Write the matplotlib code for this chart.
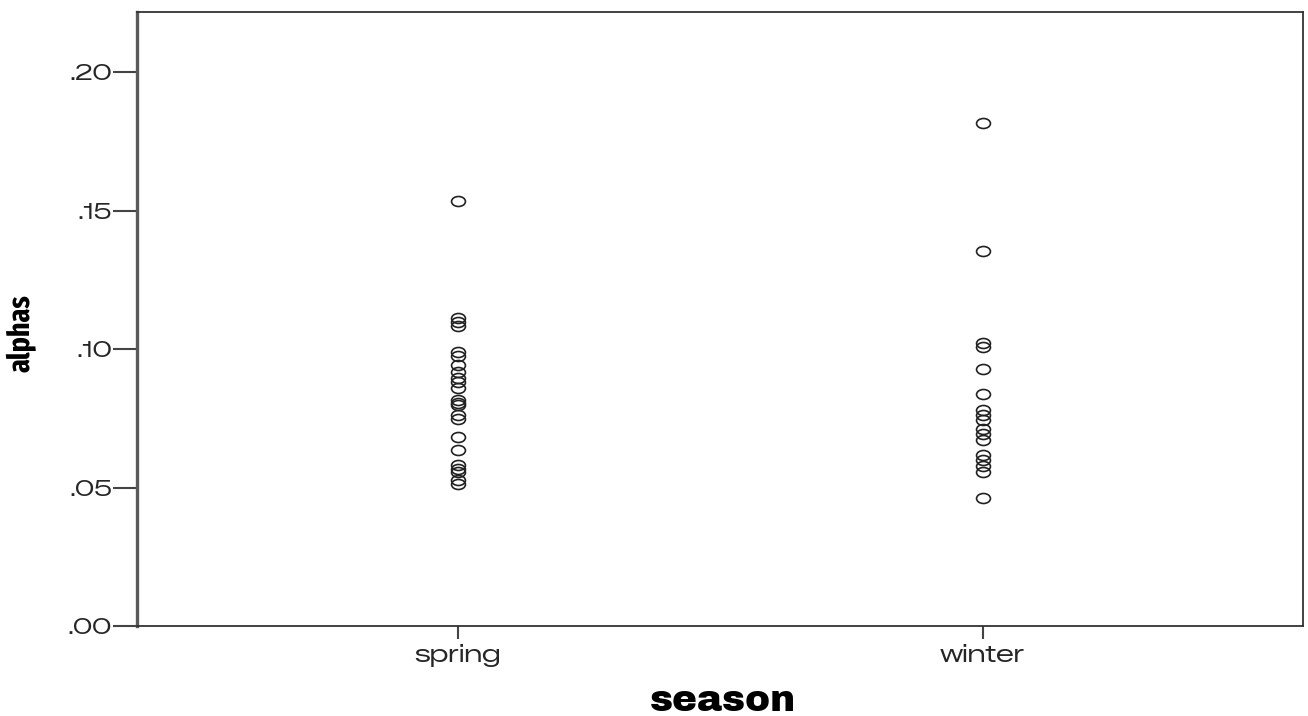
import matplotlib
matplotlib.use('Agg')
import matplotlib.pyplot as plt
from matplotlib.path import Path
from matplotlib.transforms import Affine2D
from matplotlib.ticker import FuncFormatter

# values
seasons = ['spring', 'winter']
spring_alphas = [0.1534, 0.1112, 0.1097, 0.1083, 0.0989, 0.0975, 0.0942, 0.0917,
                 0.0895, 0.0881, 0.0859, 0.0816, 0.0805, 0.0798, 0.0762, 0.0747,
                 0.0682, 0.0635, 0.0581, 0.0567, 0.0556, 0.0527, 0.0513]
winter_alphas = [0.1816, 0.1354, 0.1022, 0.1007, 0.0928, 0.0838, 0.0780, 0.0762,
                 0.0744, 0.0711, 0.0693, 0.0671, 0.0617, 0.0599, 0.0578, 0.0556,
                 0.0462]
y_ticks = [0.00, 0.05, 0.10, 0.15, 0.20]

tick_font = ['Zalando Sans Expanded', 'DejaVu Sans']

# slightly flattened circle, like the stretched original
ellipse = Path.unit_circle().transformed(Affine2D().scale(1.0, 0.72))

fig = plt.figure(figsize=(13.08, 7.16), dpi=100)
ax = fig.add_axes([0.1047, 0.1257, 0.8915, 0.8575])

for i, vals in enumerate([spring_alphas, winter_alphas]):
    ax.plot([i + 1] * len(vals), vals, linestyle='none', marker=ellipse,
            markersize=10, markerfacecolor='none', markeredgecolor='#222222',
            markeredgewidth=1.2)

ax.set_xlim(0.389, 2.61)
ax.set_ylim(0, 0.2217)
ax.set_xticks([1, 2])
ax.set_xticklabels(seasons)
ax.set_yticks(y_ticks)
ax.yaxis.set_major_formatter(FuncFormatter(lambda v, p: ('%.2f' % v)[1:]))

ax.tick_params(axis='both', direction='out', colors='#444444')
ax.tick_params(axis='y', length=17, width=1.5, pad=1)
ax.tick_params(axis='x', length=9, width=1.5, pad=4)
for lab in ax.get_yticklabels():
    lab.set_family(tick_font)
    lab.set_fontsize(16)
    lab.set_color('#262626')
for lab in ax.get_xticklabels():
    lab.set_family(tick_font)
    lab.set_fontsize(18)
    lab.set_color('#262626')

ax.spines['left'].set_linewidth(2.4)
ax.spines['left'].set_color('#5a5a5a')
for s in ['top', 'right', 'bottom']:
    ax.spines[s].set_linewidth(1.3)
    ax.spines[s].set_color('#333333')

ax.set_ylabel('alphas', fontsize=22, fontweight='bold',
              family=['Fira Sans Extra Condensed', 'DejaVu Sans'])
ax.yaxis.set_label_coords(-0.0858, 0.477)

ax.set_xlabel('season', fontsize=27, family=['Archivo Black', 'DejaVu Sans'],
              va='baseline')
ax.xaxis.set_label_coords(0.502, -0.139)

plt.savefig('out.png', dpi=100)
plt.close()
